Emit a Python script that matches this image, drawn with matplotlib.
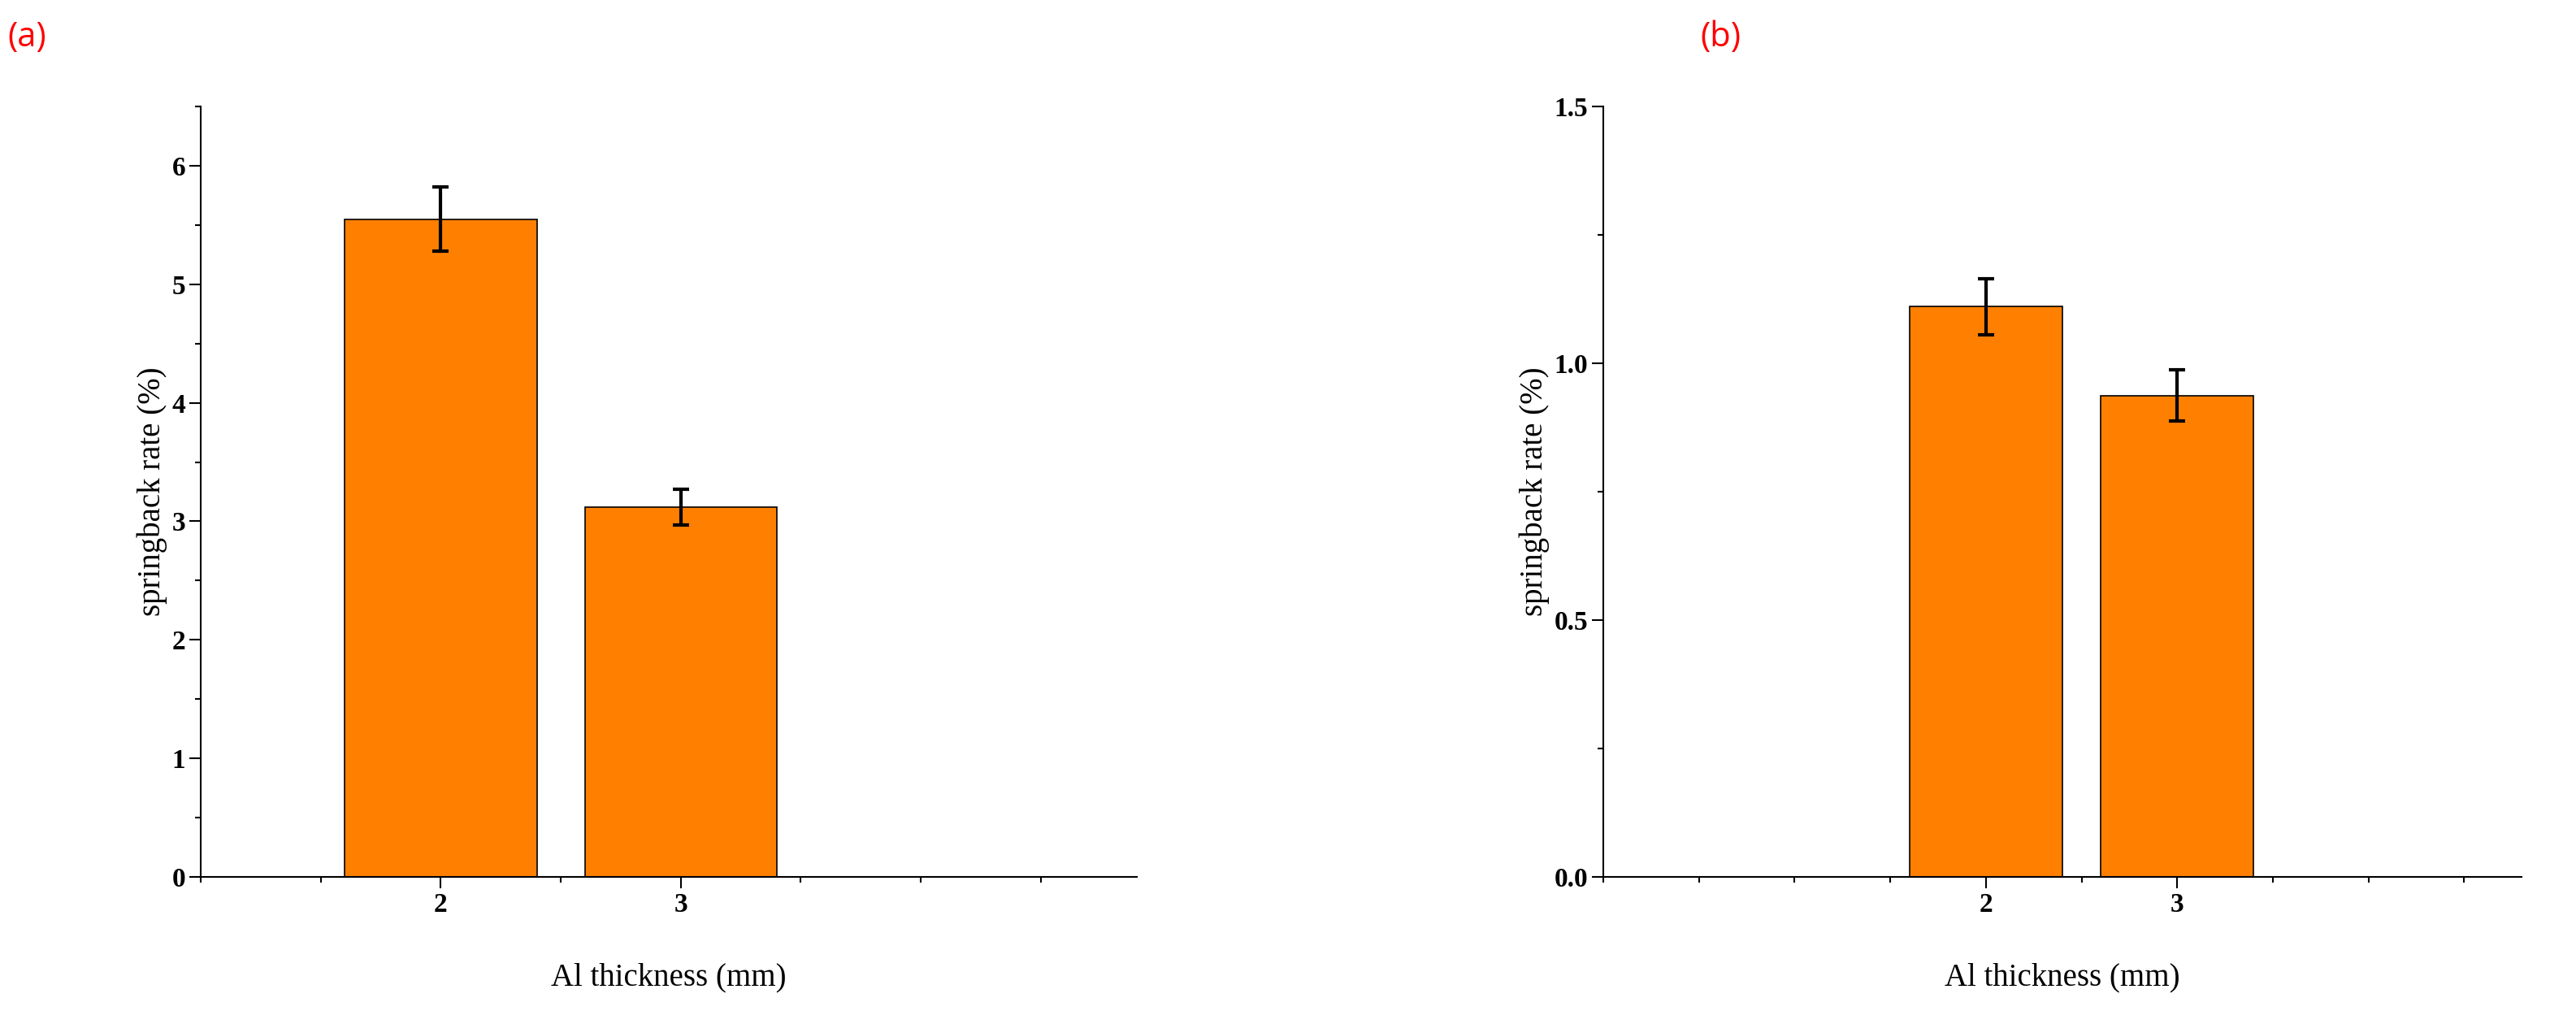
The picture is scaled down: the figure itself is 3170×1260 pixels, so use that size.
import matplotlib.pyplot as plt
from matplotlib.ticker import MultipleLocator

# springback rate vs Al thickness
thickness = [2, 3]
rate_a = [5.55, 3.12]
err_a = [0.27, 0.15]
rate_b = [1.11, 0.937]
err_b = [0.055, 0.05]

plt.rcParams['font.family'] = ['Liberation Serif', 'DejaVu Serif']

fig = plt.figure(figsize=(31.7, 12.6), dpi=100)
ax1 = fig.add_axes([247 / 3170, 1 - 1079 / 1260, 1152 / 3170, 948 / 1260])
ax2 = fig.add_axes([1973 / 3170, 1 - 1079 / 1260, 1130 / 3170, 948 / 1260])

orange = '#ff8000'
for ax, vals, errs in [(ax1, rate_a, err_a), (ax2, rate_b, err_b)]:
    ax.bar(thickness, vals, width=0.8, color=orange, edgecolor='black', linewidth=1.2,
           yerr=errs, capsize=7, error_kw={'elinewidth': 3, 'capthick': 3})
    ax.spines['top'].set_visible(False)
    ax.spines['right'].set_visible(False)
    ax.spines['left'].set_linewidth(1.5)
    ax.spines['bottom'].set_linewidth(1.5)
    ax.set_xticks(thickness)
    ax.xaxis.set_minor_locator(MultipleLocator(0.5))
    ax.tick_params(which='major', length=10, width=1.5, labelsize=24)
    ax.tick_params(which='minor', length=5, width=1.5)
    for lab in ax.get_xticklabels() + ax.get_yticklabels():
        lab.set_fontweight('bold')
    ax.set_xlabel('Al thickness (mm)', fontsize=28, labelpad=40)
    ax.set_ylabel('springback rate (%)', fontsize=28)

ax1.set_xlim(1.0, 4.9)
ax1.set_ylim(0, 6.5)
ax1.yaxis.set_major_locator(MultipleLocator(1))
ax1.yaxis.set_minor_locator(MultipleLocator(0.5))

ax2.set_xlim(0.0, 4.8)
ax2.set_ylim(0, 1.5)
ax2.yaxis.set_major_locator(MultipleLocator(0.5))
ax2.yaxis.set_minor_locator(MultipleLocator(0.25))
ax2.yaxis.set_major_formatter(plt.FormatStrFormatter('%.1f'))
for lab in ax2.get_yticklabels():
    lab.set_fontweight('bold')

fig.text(0.003, 0.955, '(a)', color='red', fontsize=30, family='Open Sans')
fig.text(0.66, 0.955, '(b)', color='red', fontsize=30, family='Open Sans')

fig.savefig('out.png')
